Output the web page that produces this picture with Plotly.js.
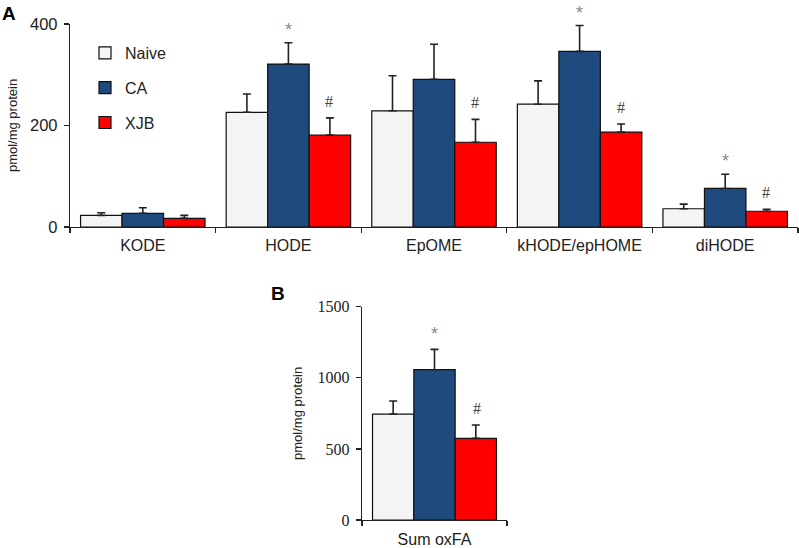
<!DOCTYPE html>
<html>
<head>
<meta charset="utf-8">
<script src="https://cdn.plot.ly/plotly-3.0.1.min.js"></script>
<style>html,body{margin:0;padding:0;background:#fff;}#chart{width:799px;height:548px;}</style>
</head>
<body>
<div id="chart"></div>
<script>
// ---- Data (panel A) ----
const categories = ['KODE', 'HODE', 'EpOME', 'kHODE/epHOME', 'diHODE'];
const naiveVals = [23, 226, 229, 242, 36];
const naiveErr  = [5, 36, 69, 46, 9];
const caVals    = [27, 321, 291, 346, 76];
const caErr     = [11, 42, 69, 51, 28];
const xjbVals   = [17, 181, 167, 187, 31];
const xjbErr    = [6, 34, 45, 16, 4];
const caStar    = [false, true, false, true, true];
const xjbHash   = [false, true, true, true, true];

// ---- Data (panel B) ----
const sumCategories = ['Sum oxFA'];
const sumNaive = [745];
const sumNaiveErr = [92];
const sumCA = [1057];
const sumCAErr = [143];
const sumXJB = [574];
const sumXJBErr = [94];

const yTicksA = [0, 200, 400];
const yTicksB = [0, 500, 1000, 1500];

const colNaive = '#f4f4f4', colCA = '#1f4a7e', colXJB = '#ff0000';
const zeros = n => new Array(n).fill(0);

function barTrace(name, x, y, err, color, xa, ya, showlegend) {
  return {
    type: 'bar', name: name, x: x, y: y, xaxis: xa, yaxis: ya,
    showlegend: showlegend, legendgroup: name,
    marker: {color: color, line: {color: '#111', width: 1.2}},
    error_y: {type: 'data', array: err, arrayminus: zeros(err.length), symmetric: false,
              color: '#222', thickness: 1.6, width: 4},
    hoverinfo: 'skip'
  };
}

const data = [
  barTrace('Naive', categories, naiveVals, naiveErr, colNaive, 'x', 'y', true),
  barTrace('CA', categories, caVals, caErr, colCA, 'x', 'y', true),
  barTrace('XJB', categories, xjbVals, xjbErr, colXJB, 'x', 'y', true),
  barTrace('Naive', sumCategories, sumNaive, sumNaiveErr, colNaive, 'x2', 'y2', false),
  barTrace('CA', sumCategories, sumCA, sumCAErr, colCA, 'x2', 'y2', false),
  barTrace('XJB', sumCategories, sumXJB, sumXJBErr, colXJB, 'x2', 'y2', false)
];

const W = 799, H = 548;
const sans = 'Liberation Sans, Arial, sans-serif';
const serif = 'Liberation Serif, Times New Roman, serif';
const annotations = [];
const groupShift = 41;
categories.forEach((c, i) => {
  if (caStar[i]) annotations.push({x: c, y: caVals[i] + caErr[i], xref: 'x', yref: 'y',
    text: '*', showarrow: false, yanchor: 'bottom', yshift: 1,
    font: {family: sans, size: 18, color: '#8a8a8a'}});
  if (xjbHash[i]) annotations.push({x: c, y: xjbVals[i] + xjbErr[i], xref: 'x', yref: 'y',
    text: '#', showarrow: false, yanchor: 'bottom', yshift: 6, xshift: groupShift,
    font: {family: serif, size: 16, color: '#444'}});
});
annotations.push({x: sumCategories[0], y: sumCA[0] + sumCAErr[0], xref: 'x2', yref: 'y2',
  text: '*', showarrow: false, yanchor: 'bottom', yshift: 3,
  font: {family: sans, size: 18, color: '#8a8a8a'}});
annotations.push({x: sumCategories[0], y: sumXJB[0] + sumXJBErr[0], xref: 'x2', yref: 'y2',
  text: '#', showarrow: false, yanchor: 'bottom', yshift: 6, xshift: 42,
  font: {family: serif, size: 16, color: '#444'}});
annotations.push({x: 0 / W, y: 1 - 1 / H, xref: 'paper', yref: 'paper', xanchor: 'left', yanchor: 'top',
  text: '<b>A</b>', showarrow: false, font: {family: sans, size: 19, color: '#000'}});
annotations.push({x: 269 / W, y: 1 - 281 / H, xref: 'paper', yref: 'paper', xanchor: 'left', yanchor: 'top',
  text: '<b>B</b>', showarrow: false, font: {family: sans, size: 19, color: '#000'}});

const axisCommon = {showline: true, linecolor: '#222', linewidth: 1.2, ticks: 'outside', ticklen: 5,
  tickcolor: '#222', tickwidth: 1.2, showgrid: false, zeroline: false, fixedrange: true};

const layout = {
  width: W, height: H,
  margin: {l: 0, r: 0, t: 0, b: 0},
  paper_bgcolor: '#fff', plot_bgcolor: '#fff',
  barmode: 'group', bargap: 0.145, bargroupgap: 0,
  showlegend: true,
  legend: {x: 85 / W, y: 1 - 36 / H, xanchor: 'left', yanchor: 'top', traceorder: 'grouped',
    tracegroupgap: 11, bgcolor: 'rgba(0,0,0,0)',
    font: {family: sans, size: 16, color: '#222'}},
  xaxis: Object.assign({}, axisCommon, {domain: [70 / W, 798 / W], anchor: 'y', type: 'category',
    tickson: 'boundaries', ticklabelstandoff: 4, tickfont: {family: sans, size: 16, color: '#222'}}),
  yaxis: Object.assign({}, axisCommon, {domain: [1 - 227 / H, 1 - 24 / H], anchor: 'x', range: [0, 400],
    tickvals: yTicksA, ticklabelstandoff: 3, tickfont: {family: sans, size: 16.5, color: '#222'},
    title: {text: 'pmol/mg protein', font: {family: sans, size: 13, color: '#222'}, standoff: 9}}),
  xaxis2: Object.assign({}, axisCommon, {domain: [362 / W, 507 / W], anchor: 'y2', type: 'category',
    tickson: 'boundaries', ticklabelstandoff: 5, tickfont: {family: sans, size: 16, color: '#222'}}),
  yaxis2: Object.assign({}, axisCommon, {domain: [1 - 520 / H, 1 - 306.7 / H], anchor: 'x2', range: [0, 1500],
    tickvals: yTicksB, ticklabelstandoff: 3, tickfont: {family: serif, size: 16, color: '#222'},
    title: {text: 'pmol/mg protein', font: {family: sans, size: 13, color: '#222'}, standoff: 12}}),
  annotations: annotations
};

Plotly.newPlot('chart', data, layout, {staticPlot: true, displayModeBar: false});
</script>
</body>
</html>
